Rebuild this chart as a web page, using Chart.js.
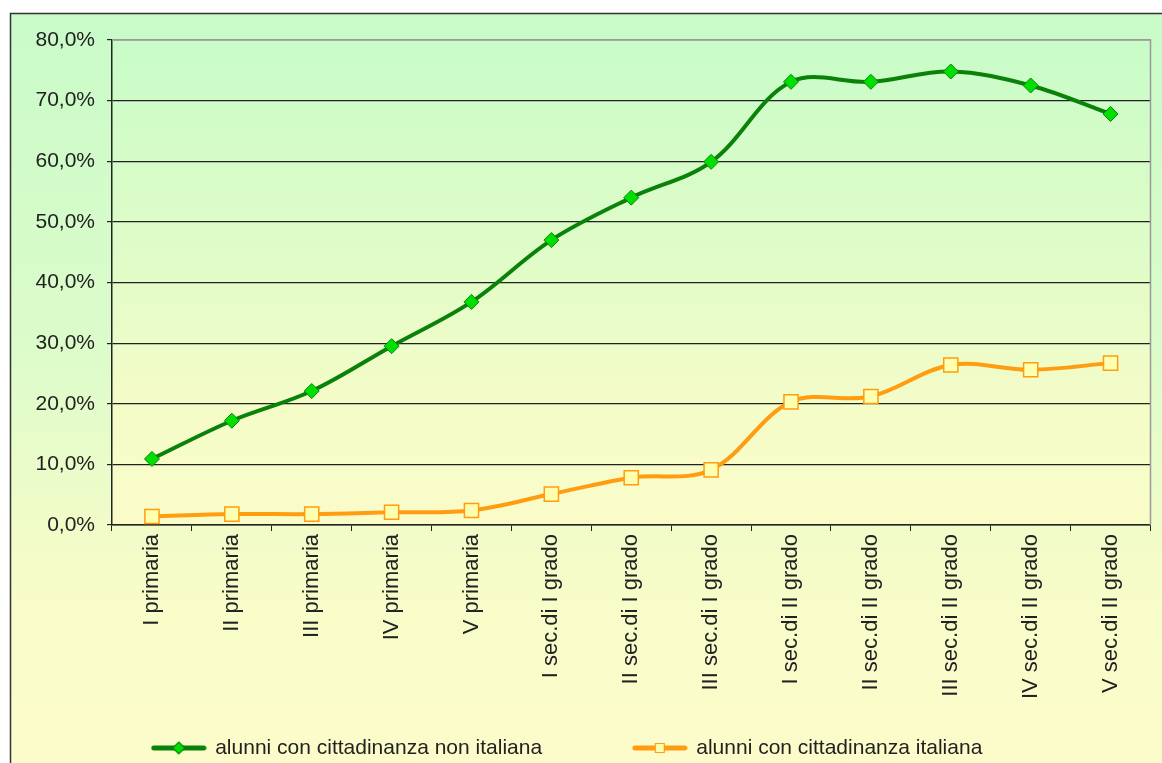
<!DOCTYPE html>
<html>
<head>
<meta charset="utf-8">
<script src="https://cdn.jsdelivr.net/npm/chart.js@4.4.1/dist/chart.umd.min.js"></script>
<style>
    html, body { margin: 0; padding: 0; background: #fff; }
</style>
</head>
<body>
<canvas id="myChart" width="1162" height="763"></canvas>
<script>
const categorie = ['I primaria', 'II primaria', 'III primaria', 'IV primaria', 'V primaria',
    'I sec.di I grado', 'II sec.di I grado', 'III sec.di I grado',
    'I sec.di II grado', 'II sec.di II grado', 'III sec.di II grado', 'IV sec.di II grado', 'V sec.di II grado'];
const nonItaliani = [10.9, 17.2, 22.1, 29.5, 36.8, 47.0, 54.0, 59.9, 73.1, 73.1, 74.8, 72.5, 67.8];
const italiani = [1.4, 1.8, 1.8, 2.1, 2.4, 5.1, 7.8, 9.1, 20.3, 21.2, 26.4, 25.6, 26.7];
const tickY = [0, 10, 20, 30, 40, 50, 60, 70, 80];

const VERDE = '#0a820a';
const ARANCIO = '#ff9c10';

// icona della legenda: linea con marcatore al centro
function icona(colore, riempimento, forma) {
    const c = document.createElement('canvas');
    c.width = 56; c.height = 16;
    const g = c.getContext('2d');
    g.strokeStyle = colore; g.lineWidth = 5; g.lineCap = 'round';
    g.beginPath(); g.moveTo(3, 8); g.lineTo(53, 8); g.stroke();
    g.fillStyle = riempimento; g.lineWidth = 1.2;
    g.beginPath();
    if (forma === 'rombo') {
        g.moveTo(28, 2); g.lineTo(34, 8); g.lineTo(28, 14); g.lineTo(22, 8); g.closePath();
    } else {
        g.rect(23.5, 3.5, 9, 9);
    }
    g.fill(); g.stroke();
    return c;
}
const icone = [icona(VERDE, '#00e000', 'rombo'), icona(ARANCIO, '#ffffb0', 'quadrato')];

const sfondo = {
    id: 'sfondo',
    beforeDraw(chart) {
        const ctx = chart.ctx;
        const a = chart.chartArea;
        const g = ctx.createLinearGradient(0, 13, 0, chart.height);
        g.addColorStop(0, '#c8fbc8');
        g.addColorStop(0.45, '#dcfcca');
        g.addColorStop(0.75, '#f6fcc8');
        g.addColorStop(1, '#fcfcca');
        ctx.save();
        ctx.fillStyle = g;
        ctx.fillRect(10, 13, chart.width - 10, chart.height - 13);
        // area del grafico
        const p = ctx.createLinearGradient(0, a.top, 0, a.bottom);
        p.addColorStop(0, '#c8fcc8');
        p.addColorStop(0.45, '#e0fcc8');
        p.addColorStop(0.75, '#f4fcc8');
        p.addColorStop(1, '#fafcc8');
        ctx.fillStyle = p;
        ctx.fillRect(a.left, a.top, a.right - a.left, a.bottom - a.top);
        ctx.strokeStyle = '#333';
        ctx.lineWidth = 1.5;
        ctx.beginPath();
        ctx.moveTo(10.5, chart.height);
        ctx.lineTo(10.5, 13.5);
        ctx.lineTo(chart.width, 13.5);
        ctx.stroke();
        ctx.restore();
    },
    beforeDatasetsDraw(chart) {
        const a = chart.chartArea, ctx = chart.ctx;
        ctx.save();
        ctx.strokeStyle = '#9a9a9a';
        ctx.lineWidth = 1.5;
        ctx.beginPath();
        ctx.moveTo(a.left, a.top);
        ctx.lineTo(a.right, a.top);
        ctx.lineTo(a.right, a.bottom);
        ctx.stroke();
        ctx.restore();
    },
    afterLayout(chart) {
        chart.legend.left -= 16;
        chart.legend.right -= 16;
    }
};

Chart.defaults.font.family = '"Liberation Sans", Arial, sans-serif';
Chart.defaults.font.size = 21;
Chart.defaults.color = '#222';

const ctx = document.getElementById('myChart').getContext('2d');
const myChart = new Chart(ctx, {
    type: 'line',
    data: {
        labels: categorie,
        datasets: [{
            label: 'alunni con cittadinanza non italiana',
            data: nonItaliani,
            borderColor: VERDE,
            backgroundColor: '#00e000',
            borderWidth: 4,
            tension: 0.35,
            pointStyle: 'rectRot',
            pointRadius: 7.5,
            pointHoverRadius: 7.5,
            pointBackgroundColor: '#00e000',
            pointBorderColor: VERDE,
            pointBorderWidth: 1
        }, {
            label: 'alunni con cittadinanza italiana',
            data: italiani,
            borderColor: ARANCIO,
            backgroundColor: '#ffffb0',
            borderWidth: 4,
            tension: 0.35,
            pointStyle: 'rect',
            pointRadius: 10,
            pointHoverRadius: 10,
            pointBackgroundColor: '#ffffb0',
            pointBorderColor: ARANCIO,
            pointBorderWidth: 1.5
        }]
    },
    options: {
        responsive: false,
        animation: false,
        devicePixelRatio: 1,
        layout: {
            padding: { left: 12, right: 7, top: 40, bottom: -5.5 }
        },
        scales: {
            x: {
                offset: true,
                grid: {
                    offset: true,
                    drawOnChartArea: false,
                    color: '#222',
                    tickLength: 6
                },
                border: { color: '#222', width: 1.5 },
                ticks: {
                    autoSkip: false,
                    minRotation: 90,
                    maxRotation: 90,
                    padding: 3,
                    font: { size: 22 }
                },
                afterFit: function (scale) { scale.height = 202.5; }
            },
            y: {
                min: 0,
                max: 80,
                afterBuildTicks: function (scale) {
                    scale.ticks = tickY.map(v => ({ value: v }));
                },
                grid: {
                    color: c => (c.tick && c.tick.value === 80) ? '#9a9a9a' : '#222',
                    tickColor: '#222',
                    lineWidth: 1.2,
                    tickLength: 5
                },
                border: { color: '#222', width: 1.5 },
                ticks: {
                    padding: 12,
                    callback: v => v.toFixed(1).replace('.', ',') + '%'
                },
                afterFit: function (scale) { scale.width = 100; }
            }
        },
        plugins: {
            tooltip: { enabled: false },
            legend: {
                position: 'bottom',
                labels: {
                    usePointStyle: true,
                    pointStyleWidth: 52,
                    padding: 10,
                    color: '#222',
                    generateLabels: function (chart) {
                        const items = Chart.defaults.plugins.legend.labels.generateLabels(chart);
                        items.forEach((it, i) => {
                            it.pointStyle = icone[i];
                            it.rotation = 0;
                            // spazio tra le due voci della legenda
                            if (i === 0) it.text = it.text + ' '.repeat(14);
                        });
                        return items;
                    }
                }
            }
        }
    },
    plugins: [sfondo]
});
</script>
</body>
</html>
